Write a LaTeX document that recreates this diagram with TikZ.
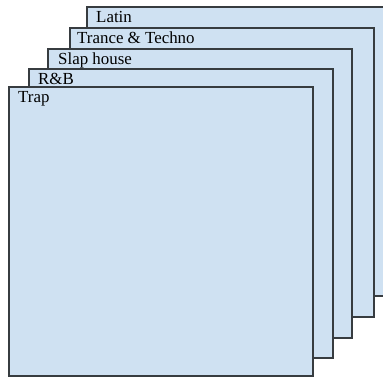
\documentclass[tikz,border=0pt]{standalone}
\usepackage{fontspec}
\setmainfont{Liberation Serif}
\definecolor{cardfill}{RGB}{207,225,242}
\definecolor{cardline}{RGB}{55,60,64}
\begin{document}
\begin{tikzpicture}[x=1pt,y=-1pt,
  card/.style={draw=cardline,fill=cardfill,line width=1.2pt,rectangle,inner sep=0pt,outer sep=0pt,anchor=north west,minimum width=304pt,minimum height=289pt},
  cardtext/.style={anchor=base west,inner sep=0pt,font=\fontsize{16.9}{20}\selectfont,text=black}]
\clip (0,0) rectangle (383,377);
\fill[white] (0,0) rectangle (383,377);
\node[card] (latin) at (87,7) {};
\node[cardtext] (latint) at ([xshift=9pt,yshift=-16pt]latin.north west) {Latin};
\node[card] (trance) at (70,28) {};
\node[cardtext] (trancet) at ([xshift=7pt,yshift=-16pt]trance.north west) {Trance \& Techno};
\node[card] (slap) at (48,49) {};
\node[cardtext] (slapt) at ([xshift=10pt,yshift=-16pt]slap.north west) {Slap house};
\node[card] (rnb) at (29,69) {};
\node[cardtext] (rnbt) at ([xshift=9pt,yshift=-16pt]rnb.north west) {R\&B};
\node[card] (trap) at (9,87) {};
\node[cardtext] (trapt) at ([xshift=9pt,yshift=-16pt]trap.north west) {Trap};
\end{tikzpicture}
\end{document}
